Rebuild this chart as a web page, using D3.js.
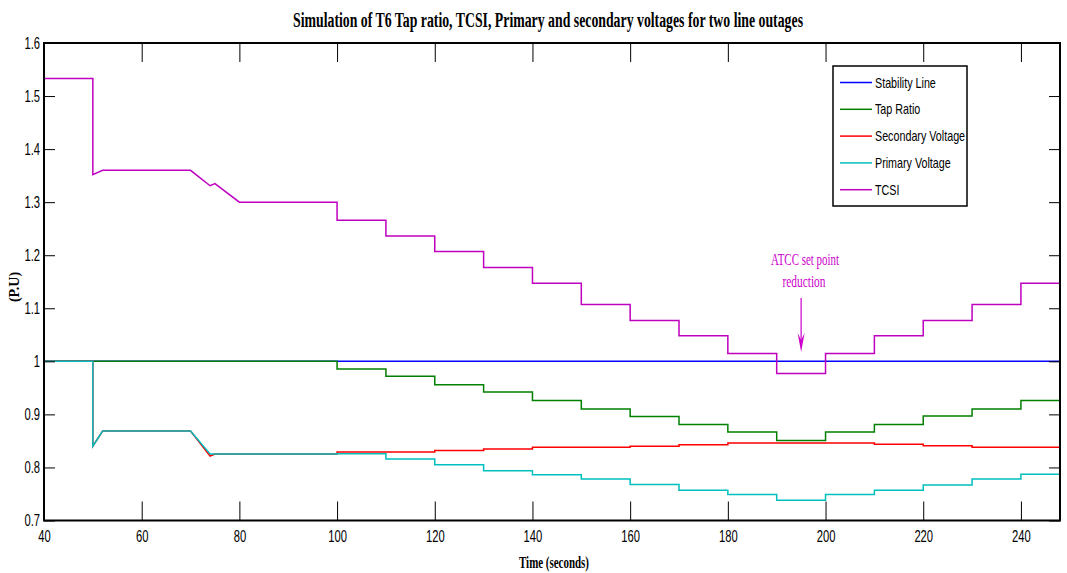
<!DOCTYPE html>
<html>
<head>
<meta charset="utf-8">
<script src="https://cdn.jsdelivr.net/npm/d3@7"></script>
<style>
  body { margin: 0; background: #fff; }
  svg { display: block; }
</style>
</head>
<body>
<div id="chart"></div>
<script>
////////////////////////////////////////////////////////////////////////
// data

// step changes every 10 s from t = 100 onwards
let stepTimes = [100, 110, 120, 130, 140, 150, 160, 170, 180, 190, 200, 210, 220, 230, 240];
let tEnd = 248;

// part of each series before the tap steps start (t, value)
let stabilityHead = [[40, 1.0]];
let tapHead = [[40, 1.0], [100, 1.0]];
let secondaryHead = [[40, 1.0], [50, 1.0], [50, 0.840], [52, 0.8687], [70, 0.8687], [74, 0.8216], [75, 0.8253], [100, 0.8253]];
let primaryHead = [[40, 1.0], [50, 1.0], [50, 0.840], [52, 0.8687], [70, 0.8687], [74, 0.8253], [100, 0.8253]];
let tcsiHead = [[40, 1.533], [50, 1.533], [50, 1.352], [52, 1.360], [70, 1.360], [74, 1.331], [75, 1.335], [80, 1.300], [100, 1.300]];

// level held after each step time
let stabilitySteps = [1, 1, 1, 1, 1, 1, 1, 1, 1, 1, 1, 1, 1, 1, 1];
let tapSteps = [0.9855, 0.972, 0.956, 0.942, 0.926, 0.910, 0.896, 0.881, 0.867, 0.851, 0.867, 0.881, 0.897, 0.910, 0.926];
let secondarySteps = [0.829, 0.829, 0.832, 0.835, 0.838, 0.838, 0.840, 0.843, 0.846, 0.846, 0.846, 0.8436, 0.841, 0.838, 0.838];
let primarySteps = [0.826, 0.816, 0.805, 0.794, 0.786, 0.778, 0.768, 0.757, 0.749, 0.738, 0.749, 0.757, 0.767, 0.778, 0.787];
let tcsiSteps = [1.266, 1.236, 1.207, 1.177, 1.147, 1.107, 1.077, 1.048, 1.015, 0.977, 1.015, 1.048, 1.077, 1.107, 1.147];

let seriesNames = ["Stability Line", "Tap Ratio", "Secondary Voltage", "Primary Voltage", "TCSI"];
let seriesColors = ["#0000ff", "#008000", "#ff0000", "#00bfbf", "#bf00bf"];

let xTicks = [40, 60, 80, 100, 120, 140, 160, 180, 200, 220, 240];
let yTicks = [0.7, 0.8, 0.9, 1.0, 1.1, 1.2, 1.3, 1.4, 1.5, 1.6];
let yTickLabels = ["0.7", "0.8", "0.9", "1", "1.1", "1.2", "1.3", "1.4", "1.5", "1.6"];

let titleText = "Simulation of T6 Tap ratio, TCSI, Primary and secondary voltages for two line outages";

////////////////////////////////////////////////////////////////////////
// build full point lists: head + held steps
function buildSeries(head, steps) {
  let pts = head.slice();
  steps.forEach(function(v, i) {
    let t0 = stepTimes[i];
    let t1 = (i + 1 < stepTimes.length) ? stepTimes[i + 1] : tEnd;
    pts.push([t0, v]);
    pts.push([t1, v]);
  });
  return pts;
}

let series = [
  buildSeries(stabilityHead, stabilitySteps),
  buildSeries(tapHead, tapSteps),
  buildSeries(secondaryHead, secondarySteps),
  buildSeries(primaryHead, primarySteps),
  buildSeries(tcsiHead, tcsiSteps)
];

////////////////////////////////////////////////////////////////////////
// svg + scales

let width = 1067, height = 573;
let plotLeft = 44, plotRight = 1060, plotTop = 43, plotBottom = 520.5;

let svg = d3.select("#chart").append("svg")
  .attr("width", width).attr("height", height);

let x = d3.scaleLinear().domain([40, tEnd]).range([plotLeft, plotRight]);
let y = d3.scaleLinear().domain([0.7, 1.6]).range([plotBottom, plotTop]);

// squeeze text horizontally (the reference uses narrow glyphs)
function squeeze(sel, k) {
  sel.each(function() {
    let w = this.getComputedTextLength();
    d3.select(this).attr("textLength", w * k).attr("lengthAdjust", "spacingAndGlyphs");
  });
}

let sans = "'Liberation Sans', Arial, sans-serif";
let serif = "'Liberation Serif', 'Times New Roman', serif";

////////////////////////////////////////////////////////////////////////
// lines

let line = d3.line()
  .x(function(d) { return x(d[0]); })
  .y(function(d) { return y(d[1]); });

svg.append("g")
  .selectAll(".series")
  .data(series)
  .enter().append("path")
  .attr("class", "series")
  .attr("d", line)
  .attr("fill", "none")
  .attr("stroke", function(d, i) { return seriesColors[i]; })
  .attr("stroke-width", 1.5);

////////////////////////////////////////////////////////////////////////
// axes (ticks point inwards on all four sides)

function styleAxis(g) {
  g.selectAll("line").attr("stroke", "#000").attr("stroke-width", 1);
  g.select(".domain").remove();
  g.selectAll("text").attr("fill", "#000").attr("font-family", sans).attr("font-size", 16);
}

let gx = svg.append("g")
  .attr("transform", "translate(0," + plotBottom + ")")
  .call(d3.axisBottom(x).tickValues(xTicks).tickSize(-19).tickSizeOuter(0).tickPadding(10).tickFormat(d3.format("d")))
  .call(styleAxis);

svg.append("g")
  .attr("transform", "translate(0," + plotTop + ")")
  .call(d3.axisTop(x).tickValues(xTicks).tickSize(-19).tickSizeOuter(0).tickFormat(""))
  .call(styleAxis);

let gy = svg.append("g")
  .attr("transform", "translate(" + plotLeft + ",0)")
  .call(d3.axisLeft(y).tickValues(yTicks).tickSize(-11).tickSizeOuter(0).tickPadding(4)
    .tickFormat(function(d, i) { return yTickLabels[i]; }))
  .call(styleAxis);

svg.append("g")
  .attr("transform", "translate(" + plotRight + ",0)")
  .call(d3.axisRight(y).tickValues(yTicks).tickSize(-11).tickSizeOuter(0).tickFormat(""))
  .call(styleAxis);

squeeze(gx.selectAll("text"), 0.7);
squeeze(gy.selectAll("text"), 0.7);

// frame
svg.append("rect")
  .attr("x", plotLeft).attr("y", plotTop)
  .attr("width", plotRight - plotLeft).attr("height", plotBottom - plotTop)
  .attr("fill", "none").attr("stroke", "#000").attr("stroke-width", 2);

////////////////////////////////////////////////////////////////////////
// titles

let title = svg.append("text")
  .attr("x", 548).attr("y", 27)
  .attr("text-anchor", "middle")
  .attr("font-family", serif).attr("font-weight", "bold").attr("font-size", 20)
  .text(titleText);
title.attr("textLength", 510).attr("lengthAdjust", "spacingAndGlyphs");

let xlab = svg.append("text")
  .attr("x", 554).attr("y", 568)
  .attr("text-anchor", "middle")
  .attr("font-family", serif).attr("font-weight", "bold").attr("font-size", 17)
  .text("Time (seconds)");
xlab.attr("textLength", 70).attr("lengthAdjust", "spacingAndGlyphs");

let ylab = svg.append("text")
  .attr("transform", "translate(19,287) rotate(-90)")
  .attr("text-anchor", "middle")
  .attr("font-family", serif).attr("font-weight", "bold").attr("font-size", 14)
  .text("(P.U)");

////////////////////////////////////////////////////////////////////////
// annotation

let annColor = "#cc00cc";
let ann = svg.append("g").attr("fill", annColor).attr("font-family", serif).attr("font-size", 16)
  .attr("text-anchor", "middle");
ann.append("text").attr("x", 805).attr("y", 265).text("ATCC set point")
  .attr("textLength", 68).attr("lengthAdjust", "spacingAndGlyphs");
ann.append("text").attr("x", 804).attr("y", 287).text("reduction")
  .attr("textLength", 43).attr("lengthAdjust", "spacingAndGlyphs");

let ax = x(195);
svg.append("line")
  .attr("x1", ax).attr("x2", ax).attr("y1", 298).attr("y2", 345)
  .attr("stroke", annColor).attr("stroke-width", 1.2);
svg.append("path")
  .attr("d", "M" + ax + ",352 L" + (ax - 3.5) + ",333 L" + ax + ",340 L" + (ax + 3.5) + ",333 Z")
  .attr("fill", annColor);

////////////////////////////////////////////////////////////////////////
// legend

let lgX = 833, lgY = 66, lgW = 134, lgH = 140;
let legend = svg.append("g");
legend.append("rect")
  .attr("x", lgX).attr("y", lgY).attr("width", lgW).attr("height", lgH)
  .attr("fill", "#fff").attr("stroke", "#000").attr("stroke-width", 1.5);

let rows = legend.selectAll(".lgrow")
  .data(seriesNames)
  .enter().append("g")
  .attr("class", "lgrow")
  .attr("transform", function(d, i) { return "translate(0," + (lgY + 16.5 + i * 26.8) + ")"; });

rows.append("line")
  .attr("x1", lgX + 7).attr("x2", lgX + 39)
  .attr("stroke", function(d, i) { return seriesColors[i]; })
  .attr("stroke-width", 1.5);

let lgText = rows.append("text")
  .attr("x", lgX + 42).attr("dy", "0.35em")
  .attr("font-family", sans).attr("font-size", 14.5)
  .text(function(d) { return d; });
squeeze(lgText, 0.74);
</script>
</body>
</html>
